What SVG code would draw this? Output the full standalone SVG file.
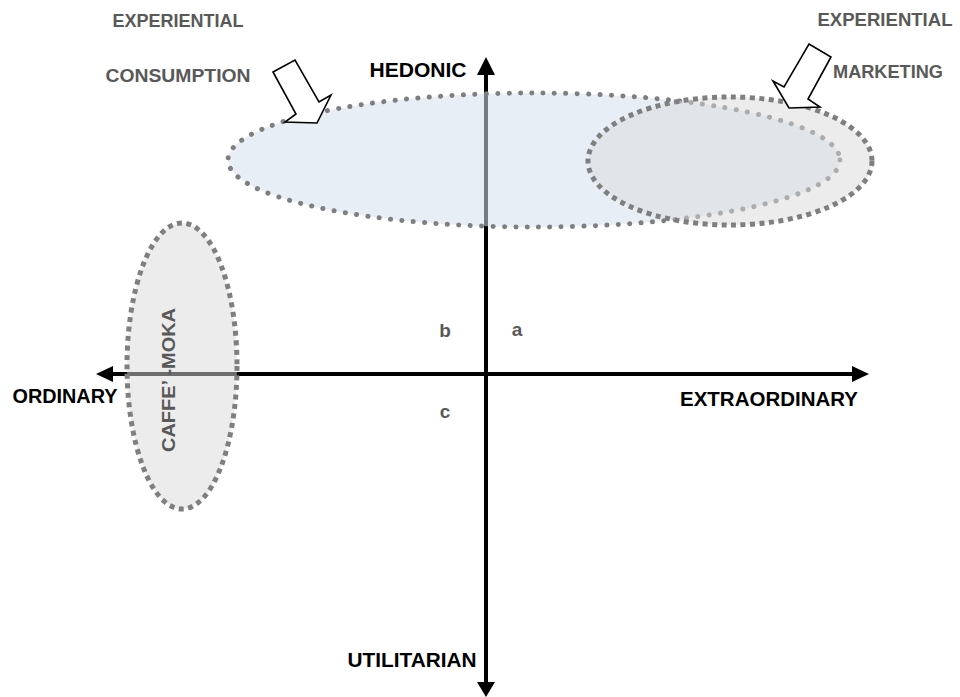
<svg xmlns="http://www.w3.org/2000/svg" width="960" height="697" viewBox="0 0 960 697">
<style>
.lbl{font-family:"Liberation Sans",Arial,sans-serif;font-weight:bold;font-size:19px;fill:#595959;text-anchor:middle}
.ax{font-family:"Liberation Sans",Arial,sans-serif;font-weight:bold;font-size:21px;fill:#000;text-anchor:middle}
.q{font-family:"Liberation Sans",Arial,sans-serif;font-weight:bold;font-size:19px;fill:#595959;text-anchor:middle}
.blk{fill:#fff;stroke:#000;stroke-width:1.6;stroke-linejoin:miter}
</style>
<rect width="960" height="697" fill="#fff"/>
<g id="connectors">
<line x1="486" y1="72" x2="486" y2="684" stroke="#000" stroke-width="4"/>
<polygon points="486,57 477,75 495,75" fill="#000"/>
<polygon points="486,697 477,682 495,682" fill="#000"/>
<line x1="110" y1="374" x2="855" y2="374" stroke="#000" stroke-width="4"/>
<polygon points="96,374 113,366 113,382" fill="#000"/>
<polygon points="869,374 852,366 852,382" fill="#000"/>
</g>
<g id="experiential-consumption-area">
<ellipse cx="534" cy="160" rx="306" ry="67" fill="#d6e0ee" fill-opacity="0.55" stroke="#7f7f7f" stroke-width="5" stroke-dasharray="0.1 11.3" stroke-linecap="round"/>
</g>
<g id="experiential-marketing-area">
<ellipse cx="730" cy="161" rx="142" ry="64" fill="#d9d9d9" fill-opacity="0.5" stroke="#7f7f7f" stroke-width="5" stroke-dasharray="5 4.5"/>
</g>
<g id="caffe-moka">
<ellipse cx="182" cy="366" rx="55" ry="143" fill="#d9d9d9" fill-opacity="0.5" stroke="#7f7f7f" stroke-width="5" stroke-dasharray="5 4.5"/>
<text class="lbl" transform="translate(175,380) rotate(-90)" font-size="20" textLength="144" lengthAdjust="spacingAndGlyphs">CAFFE’ -MOKA</text>
</g>
<g id="arrow-consumption">
<polygon class="blk" points="273,72 295,60 319,102 331,95 317,123 285,122 296,114"/>
</g>
<g id="arrow-marketing">
<polygon class="blk" points="809,44 831,57 808,99 820,107 789,108 773,81 784,87"/>
</g>
<g id="label-experiential-consumption">
<text class="lbl" x="178" y="27" textLength="131" lengthAdjust="spacingAndGlyphs">EXPERIENTIAL</text>
<text class="lbl" x="178" y="82" textLength="145" lengthAdjust="spacingAndGlyphs">CONSUMPTION</text>
</g>
<g id="label-experiential-marketing">
<text class="lbl" x="885" y="26" textLength="135" lengthAdjust="spacingAndGlyphs">EXPERIENTIAL</text>
<text class="lbl" x="888" y="78" textLength="110" lengthAdjust="spacingAndGlyphs">MARKETING</text>
</g>
<g id="axis-labels">
<text class="ax" x="418" y="77" textLength="97" lengthAdjust="spacingAndGlyphs">HEDONIC</text>
<text class="ax" x="412" y="667" textLength="129" lengthAdjust="spacingAndGlyphs">UTILITARIAN</text>
<text class="ax" x="65" y="403" textLength="105" lengthAdjust="spacingAndGlyphs">ORDINARY</text>
<text class="ax" x="769" y="406" textLength="178" lengthAdjust="spacingAndGlyphs">EXTRAORDINARY</text>
</g>
<g id="quadrants">
<text class="q" x="517" y="336">a</text>
<text class="q" x="445" y="337">b</text>
<text class="q" x="445" y="418">c</text>
</g>
</svg>
